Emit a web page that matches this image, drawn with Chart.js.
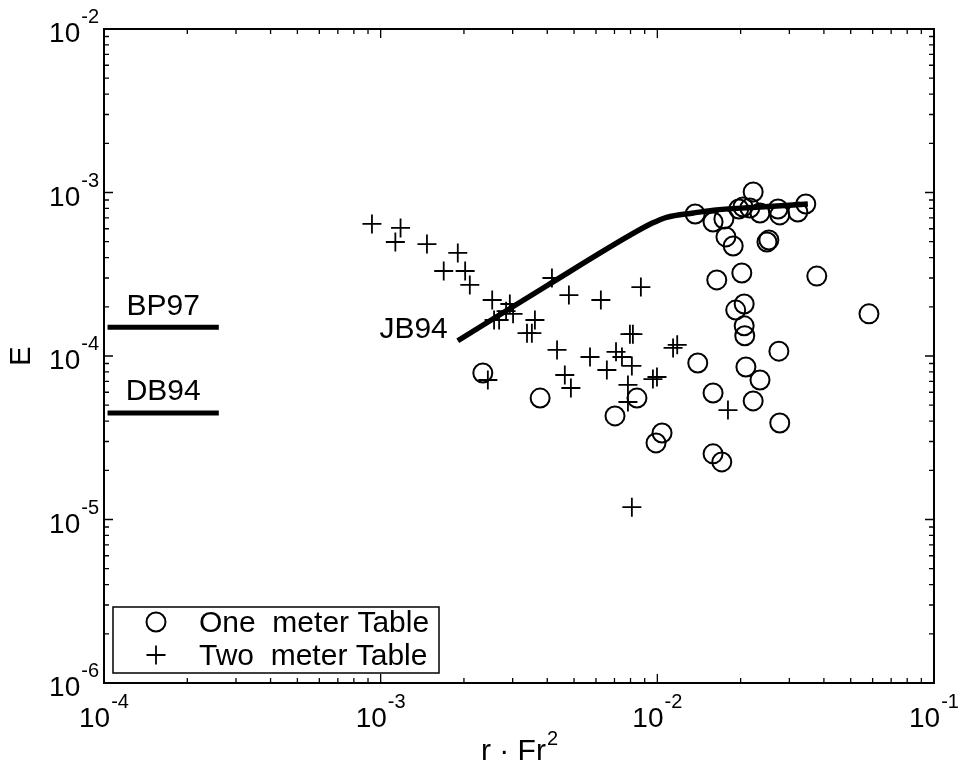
<!DOCTYPE html>
<html>
<head>
<meta charset="utf-8">
<script src="https://cdn.jsdelivr.net/npm/chart.js@4.4.0/dist/chart.umd.min.js"></script>
<style>
body { margin: 0; background: #fff; }
#wrap { width: 962px; height: 770px; }
</style>
</head>
<body>
<div id="wrap"><canvas id="myChart"></canvas></div>
<script>
// One meter Table (circles)
const oneMeterX = [2.34e-3, 3.77e-3, 7.03e-3, 8.44e-3, 9.89e-3, 1.04e-2, 1.37e-2, 1.40e-2, 1.59e-2, 1.59e-2,
    1.59e-2, 1.64e-2, 1.71e-2, 1.74e-2, 1.77e-2, 1.88e-2, 1.92e-2, 1.97e-2, 2.02e-2, 2.04e-2,
    2.06e-2, 2.06e-2, 2.07e-2, 2.09e-2, 2.16e-2, 2.22e-2, 2.22e-2, 2.35e-2, 2.35e-2, 2.49e-2,
    2.53e-2, 2.73e-2, 2.75e-2, 2.77e-2, 2.77e-2, 3.22e-2, 3.44e-2, 3.77e-2, 5.82e-2];
const oneMeterY = [7.87e-5, 5.53e-5, 4.30e-5, 5.53e-5, 2.94e-5, 3.38e-5, 7.39e-4, 9.06e-5, 6.60e-4, 5.94e-5,
    2.52e-5, 2.92e-4, 2.25e-5, 6.89e-4, 5.35e-4, 4.71e-4, 1.91e-4, 7.93e-4, 3.22e-4, 8.15e-4,
    2.08e-4, 1.53e-4, 1.33e-4, 8.56e-5, 8.04e-4, 1.007e-3, 5.31e-5, 7.49e-4, 7.13e-5, 4.98e-4,
    5.12e-4, 7.93e-4, 1.07e-4, 7.29e-4, 3.89e-5, 7.60e-4, 8.51e-4, 3.08e-4, 1.81e-4];

// Two meter Table (plus signs)
const twoMeterX = [9.30e-4, 1.18e-3, 1.13e-3, 1.47e-3, 1.90e-3, 1.69e-3, 2.02e-3, 2.10e-3, 2.53e-3, 2.93e-3,
    2.84e-3, 3.01e-3, 2.57e-3, 2.68e-3, 3.61e-3, 3.38e-3, 3.52e-3, 2.44e-3, 4.16e-3, 4.79e-3,
    6.25e-3, 8.72e-3, 4.34e-3, 5.71e-3, 7.09e-3, 7.45e-3, 7.96e-3, 8.16e-3, 8.09e-3, 6.57e-3,
    4.63e-3, 4.87e-3, 7.83e-3, 7.83e-3, 9.64e-3, 9.97e-3, 1.14e-2, 1.18e-2, 1.80e-2, 8.09e-3];
const twoMeterY = [6.42e-4, 6.07e-4, 4.98e-4, 4.84e-4, 4.27e-4, 3.31e-4, 3.31e-4, 2.72e-4, 2.20e-4, 2.08e-4,
    1.88e-4, 1.81e-4, 1.66e-4, 1.66e-4, 1.66e-4, 1.38e-4, 1.38e-4, 7.13e-5, 3.00e-4, 2.36e-4,
    2.20e-4, 2.64e-4, 1.09e-4, 9.86e-5, 1.06e-4, 9.86e-5, 1.36e-4, 1.36e-4, 8.69e-5, 8.21e-5,
    7.65e-5, 6.37e-5, 6.65e-5, 5.23e-5, 7.23e-5, 7.44e-5, 1.12e-4, 1.17e-4, 4.67e-5, 1.19e-5];

// JB94 curve
const jb94X = [1.9e-3, 4e-3, 8e-3, 9.6e-3, 1.08e-2, 1.35e-2, 1.6e-2, 2.2e-2, 3.5e-2];
const jb94Y = [1.24e-4, 2.7e-4, 5.5e-4, 6.5e-4, 7.05e-4, 7.5e-4, 7.8e-4, 8.1e-4, 8.5e-4];

// reference levels
const refX = [1.03e-4, 2.6e-4];
const bp97E = 1.5e-4;
const db94E = 4.48e-5;

// tick labels (powers of ten)
const xTickExps = [-4, -3, -2, -1];
const yTickExps = [-6, -5, -4, -3, -2];

const FONT = '"Liberation Sans", Arial, Helvetica, sans-serif';

function pts(xs, ys) {
    return xs.map((v, i) => ({ x: v, y: ys[i] }));
}

function drawPow(ctx, exp, x, y, align) {
    ctx.font = '28px ' + FONT;
    const wBase = ctx.measureText('10').width;
    ctx.font = '20px ' + FONT;
    const sup = String(exp);
    const wSup = ctx.measureText(sup).width;
    const total = wBase + 1 + wSup;
    const x0 = align === 'right' ? x - total : x - total / 2;
    ctx.textAlign = 'left';
    ctx.textBaseline = 'alphabetic';
    ctx.font = '28px ' + FONT;
    ctx.fillText('10', x0, y);
    ctx.font = '20px ' + FONT;
    ctx.fillText(sup, x0 + wBase + 1, y - 19);
}

const framePlugin = {
    id: 'frame',
    afterDraw(chart) {
        const { ctx, chartArea: a, scales } = chart;
        const xs = scales.x, ys = scales.y;
        ctx.save();
        ctx.fillStyle = '#000';
        ctx.strokeStyle = '#000';

        // box
        ctx.lineWidth = 2;
        ctx.strokeRect(a.left, a.top, a.right - a.left, a.bottom - a.top);

        // inward ticks on all four sides
        ctx.lineWidth = 1.3;
        ctx.beginPath();
        for (let i = 0; i < xTickExps.length; i++) {
            const e = xTickExps[i];
            for (let m = 1; m < 10; m++) {
                if (i === xTickExps.length - 1 && m > 1) break;
                const px = xs.getPixelForValue(m * Math.pow(10, e));
                const len = m === 1 ? 9 : 5;
                ctx.moveTo(px, a.bottom); ctx.lineTo(px, a.bottom - len);
                ctx.moveTo(px, a.top); ctx.lineTo(px, a.top + len);
            }
        }
        for (let i = 0; i < yTickExps.length; i++) {
            const e = yTickExps[i];
            for (let m = 1; m < 10; m++) {
                if (i === yTickExps.length - 1 && m > 1) break;
                const py = ys.getPixelForValue(m * Math.pow(10, e));
                const len = m === 1 ? 9 : 5;
                ctx.moveTo(a.left, py); ctx.lineTo(a.left + len, py);
                ctx.moveTo(a.right, py); ctx.lineTo(a.right - len, py);
            }
        }
        ctx.stroke();

        // tick labels
        xTickExps.forEach(e => {
            drawPow(ctx, e, xs.getPixelForValue(Math.pow(10, e)), a.bottom + 44, 'center');
        });
        yTickExps.forEach(e => {
            drawPow(ctx, e, a.left - 5, ys.getPixelForValue(Math.pow(10, e)) + 13, 'right');
        });

        // axis titles
        ctx.font = '30px ' + FONT;
        const main = 'r \u00B7 Fr';
        const wMain = ctx.measureText(main).width;
        ctx.font = '20px ' + FONT;
        const wSup = ctx.measureText('2').width;
        const cx = (a.left + a.right) / 2;
        const tx0 = cx - (wMain + wSup) / 2;
        ctx.textAlign = 'left';
        ctx.font = '30px ' + FONT;
        ctx.fillText(main, tx0, a.bottom + 77);
        ctx.font = '20px ' + FONT;
        ctx.fillText('2', tx0 + wMain + 1, a.bottom + 62);

        ctx.save();
        ctx.translate(22, (a.top + a.bottom) / 2);
        ctx.rotate(-Math.PI / 2);
        ctx.font = '29px ' + FONT;
        ctx.textAlign = 'center';
        ctx.textBaseline = 'middle';
        ctx.fillText('E', 0, 0);
        ctx.restore();

        // annotations
        ctx.font = '30px ' + FONT;
        ctx.textAlign = 'center';
        ctx.textBaseline = 'alphabetic';
        const refMid = (xs.getPixelForValue(refX[0]) + xs.getPixelForValue(refX[1])) / 2;
        ctx.fillText('BP97', refMid, ys.getPixelForValue(bp97E) - 12);
        ctx.fillText('DB94', refMid, ys.getPixelForValue(db94E) - 13);
        ctx.textAlign = 'right';
        ctx.fillText('JB94', xs.getPixelForValue(jb94X[0]) - 10, ys.getPixelForValue(jb94Y[0]) - 3);

        // legend
        const lx = a.left + 9, ly = 607, lw = 326, lh = 66;
        ctx.lineWidth = 1.5;
        ctx.strokeRect(lx, ly, lw, lh);
        const entries = chart.data.datasets.filter(d => d.inLegend);
        entries.forEach((d, i) => {
            const my = ly + 15 + i * 33;
            ctx.fillStyle = 'rgba(0,0,0,0)';
            ctx.lineWidth = d.borderWidth;
            Chart.helpers.drawPoint(ctx, {
                pointStyle: d.pointStyle, radius: d.pointRadius, rotation: 0, borderWidth: d.borderWidth
            }, lx + 43, my);
            ctx.fillStyle = '#000';
            ctx.font = '30px ' + FONT;
            ctx.textAlign = 'left';
            ctx.textBaseline = 'alphabetic';
            ctx.fillText(d.label, lx + 86, my + 10);
        });
        ctx.restore();
    }
};

function refLine(label, e) {
    return {
        label: label,
        data: pts(refX, [e, e]),
        showLine: true,
        pointRadius: 0,
        borderColor: '#000',
        borderWidth: 5,
        borderCapStyle: 'butt'
    };
}

const ctx = document.getElementById('myChart').getContext('2d');
const chart = new Chart(ctx, {
    type: 'scatter',
    data: {
        datasets: [
            {
                label: 'One  meter Table',
                inLegend: true,
                data: pts(oneMeterX, oneMeterY),
                pointStyle: 'circle',
                pointRadius: 9.5,
                borderWidth: 2,
                borderColor: '#000',
                backgroundColor: 'rgba(0,0,0,0)'
            },
            {
                label: 'Two  meter Table',
                inLegend: true,
                data: pts(twoMeterX, twoMeterY),
                pointStyle: 'cross',
                pointRadius: 9.5,
                borderWidth: 1.8,
                borderColor: '#000',
                backgroundColor: 'rgba(0,0,0,0)'
            },
            refLine('BP97', bp97E),
            refLine('DB94', db94E),
            {
                label: 'JB94',
                data: pts(jb94X, jb94Y),
                showLine: true,
                pointRadius: 0,
                borderColor: '#000',
                borderWidth: 5.5,
                cubicInterpolationMode: 'monotone'
            }
        ]
    },
    options: {
        responsive: true,
        maintainAspectRatio: false,
        animation: false,
        events: [],
        layout: { padding: { left: 104, right: 28, top: 29, bottom: 87 } },
        scales: {
            x: { type: 'logarithmic', min: 1e-4, max: 1e-1, display: false },
            y: { type: 'logarithmic', min: 1e-6, max: 1e-2, display: false }
        },
        plugins: {
            legend: { display: false },
            tooltip: { enabled: false }
        }
    },
    plugins: [framePlugin]
});
</script>
</body>
</html>
